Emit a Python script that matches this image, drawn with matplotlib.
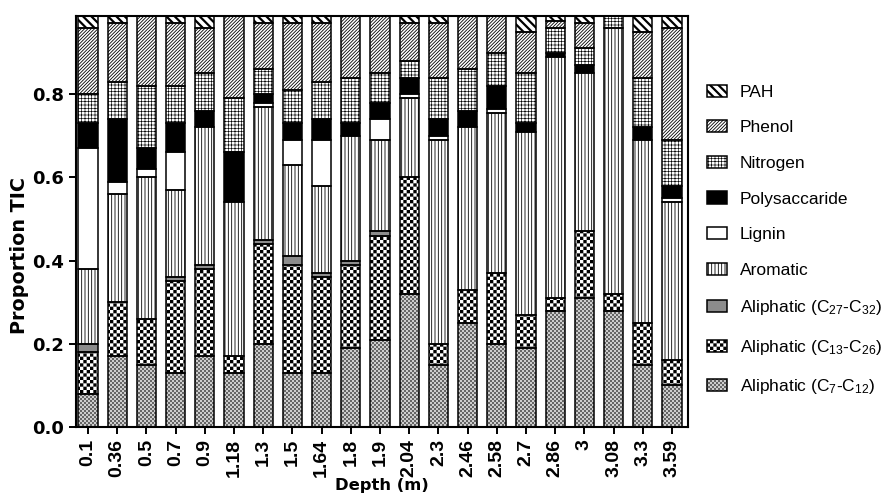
import numpy as np
import matplotlib
matplotlib.use("Agg")
import matplotlib.pyplot as plt
import matplotlib.hatch as mhatch
import matplotlib.patches as mpatches
from matplotlib.path import Path

# ---------------- data ----------------
depths = ['0.1', '0.36', '0.5', '0.7', '0.9', '1.18', '1.3', '1.5', '1.64', '1.8', '1.9',
          '2.04', '2.3', '2.46', '2.58', '2.7', '2.86', '3', '3.08', '3.3', '3.59']
aliphatic_c7_c12 = [0.08, 0.17, 0.15, 0.13, 0.17, 0.13, 0.20, 0.13, 0.13, 0.19, 0.21,
                    0.32, 0.15, 0.25, 0.20, 0.19, 0.28, 0.31, 0.28, 0.15, 0.10]
aliphatic_c13_c26 = [0.10, 0.13, 0.11, 0.22, 0.21, 0.04, 0.24, 0.26, 0.23, 0.20, 0.25,
                     0.28, 0.05, 0.08, 0.17, 0.08, 0.03, 0.16, 0.04, 0.10, 0.06]
aliphatic_c27_c32 = [0.02, 0.00, 0.00, 0.01, 0.01, 0.00, 0.01, 0.02, 0.01, 0.01, 0.01,
                     0.00, 0.00, 0.00, 0.00, 0.00, 0.00, 0.00, 0.00, 0.00, 0.00]
aromatic = [0.18, 0.26, 0.34, 0.21, 0.33, 0.37, 0.32, 0.22, 0.21, 0.30, 0.22,
            0.19, 0.49, 0.39, 0.385, 0.44, 0.58, 0.38, 0.64, 0.44, 0.38]
lignin = [0.29, 0.03, 0.02, 0.09, 0.00, 0.00, 0.01, 0.06, 0.11, 0.00, 0.05,
          0.01, 0.01, 0.00, 0.01, 0.00, 0.00, 0.00, 0.00, 0.00, 0.01]
polysaccaride = [0.06, 0.15, 0.05, 0.07, 0.04, 0.12, 0.02, 0.04, 0.05, 0.03, 0.04,
                 0.04, 0.04, 0.04, 0.055, 0.02, 0.01, 0.02, 0.00, 0.03, 0.03]
nitrogen = [0.07, 0.09, 0.15, 0.09, 0.09, 0.13, 0.06, 0.08, 0.09, 0.11, 0.07,
            0.04, 0.10, 0.10, 0.08, 0.12, 0.06, 0.04, 0.04, 0.12, 0.11]
phenol = [0.16, 0.14, 0.18, 0.15, 0.11, 0.21, 0.11, 0.16, 0.14, 0.16, 0.15,
          0.09, 0.13, 0.14, 0.10, 0.10, 0.015, 0.06, 0.00, 0.11, 0.27]
pah = [0.04, 0.03, 0.00, 0.03, 0.04, 0.00, 0.03, 0.03, 0.03, 0.00, 0.00,
       0.03, 0.03, 0.00, 0.00, 0.05, 0.025, 0.03, 0.00, 0.05, 0.04]

series_names = ['Aliphatic (C$\\mathregular{_7}$-C$\\mathregular{_{12}}$)',
                'Aliphatic (C$\\mathregular{_{13}}$-C$\\mathregular{_{26}}$)',
                'Aliphatic (C$\\mathregular{_{27}}$-C$\\mathregular{_{32}}$)',
                'Aromatic', 'Lignin', 'Polysaccaride', 'Nitrogen', 'Phenol', 'PAH']
series_values = [aliphatic_c7_c12, aliphatic_c13_c26, aliphatic_c27_c32, aromatic,
                 lignin, polysaccaride, nitrogen, phenol, pah]


# ------------- custom checkerboard hatch ('*' -> checker cells) -------------
class CheckerHatch(mhatch.HatchPatternBase):
    def __init__(self, hatch, density):
        self.n = hatch.count('*') * 10
        if self.n > 0:
            ii, jj = np.meshgrid(np.arange(self.n), np.arange(self.n))
            mask = (ii + jj) % 2 == 0
            self.ci = ii[mask]
            self.cj = jj[mask]
            self.num_vertices = len(self.ci) * 5
        else:
            self.num_vertices = 0

    def set_vertices_and_codes(self, vertices, codes):
        s = 1.0 / self.n
        sq = np.array([[0, 0], [1, 0], [1, 1], [0, 1], [0, 0]], float) * s
        offs = np.stack([self.ci * s, self.cj * s], axis=1)
        v = (sq[None, :, :] + offs[:, None, :]).reshape(-1, 2)
        vertices[:] = v
        c = np.array([Path.MOVETO, Path.LINETO, Path.LINETO, Path.LINETO,
                      Path.CLOSEPOLY], dtype=Path.code_type)
        codes[:] = np.tile(c, len(self.ci))


mhatch._hatch_types[:] = [t for t in mhatch._hatch_types
                          if t.__name__ != 'Stars'] + [CheckerHatch]

# style per series: (facecolor, hatchcolor, hatch, hatch linewidth)
styles = [
    ('#cdcdcd', '#666666', '*' * 5, 0.0),
    ('white', 'black', '***', 0.0),
    ('#8c8c8c', 'black', None, 0.5),
    ('white', 'black', '|||||', 0.6),
    ('white', 'black', None, 0.5),
    ('black', 'black', None, 0.5),
    ('white', 'black', '+++++', 0.45),
    ('white', 'black', '/' * 10, 0.6),
    ('white', 'black', '\\' * 4, 1.6),
]
hatch_lw = {s[2]: s[3] for s in styles if s[2]}

plt.rcParams['font.family'] = ['DejaVu Sans']

fig = plt.figure(figsize=(8.87, 5.04), dpi=100)
ax = fig.add_axes([0.0857, 0.1528, 0.6900, 0.8155])

x = np.arange(len(depths))
width = 0.66
bottom = np.zeros(len(depths))
legend_handles = []
for name, vals, (fc, hc, hatch, hlw) in zip(series_names, series_values, styles):
    vals = np.asarray(vals, float)
    m = vals > 0
    with plt.rc_context({'hatch.linewidth': hlw}):
        bars = ax.bar(x[m], vals[m], width, bottom=bottom[m], color=fc,
                      edgecolor=hc, hatch=hatch, linewidth=0, zorder=2)
        for b in bars:
            if hasattr(b, 'set_hatch_linewidth'):
                b.set_hatch_linewidth(hlw)
        ax.bar(x[m], vals[m], width, bottom=bottom[m], fill=False,
               edgecolor='black', linewidth=1.1, zorder=3)
        hp = mpatches.Patch(facecolor=fc, edgecolor=hc, hatch=hatch, linewidth=0)
        op = mpatches.Patch(fill=False, edgecolor='black', linewidth=1.1)
    legend_handles.append(((hp, op), name))
    bottom = bottom + vals

ax.set_xlim(-0.41, 20.55)
ax.set_ylim(0, 0.988)
ax.set_yticks([0.0, 0.2, 0.4, 0.6, 0.8])
ax.set_yticklabels(['0.0', '0.2', '0.4', '0.6', '0.8'], fontsize=13, fontweight='bold')
ax.set_xticks(x)
ax.set_xticklabels(depths, rotation=90, fontsize=14, fontweight='bold',
                   family='Liberation Sans')
ax.tick_params(axis='both', direction='out', length=5, width=1.4, color='black')
for sp in ax.spines.values():
    sp.set_linewidth(1.5)
ax.set_ylabel('Proportion TIC', fontsize=13.8, fontweight='bold')
ax.yaxis.set_label_coords(-0.077, 0.418)
ax.set_xlabel('Depth (m)', fontsize=11.8, fontweight='bold')
ax.xaxis.set_label_coords(0.5, -0.125)

handles = [h for h, _ in legend_handles][::-1]
labels = [l for _, l in legend_handles][::-1]
leg = fig.legend(handles, labels, loc='center left', bbox_to_anchor=(0.797, 0.523),
                 frameon=False, borderpad=0, borderaxespad=0,
                 prop={'family': 'Liberation Sans', 'size': 12.5},
                 handlelength=1.15, handleheight=0.7, handletextpad=0.75,
                 labelspacing=1.18)
for p in leg.findobj(mpatches.Rectangle):
    h = p.get_hatch()
    if h and h in hatch_lw and hasattr(p, 'set_hatch_linewidth'):
        p.set_hatch_linewidth(hatch_lw[h])

fig.savefig('out.png', dpi=100)
